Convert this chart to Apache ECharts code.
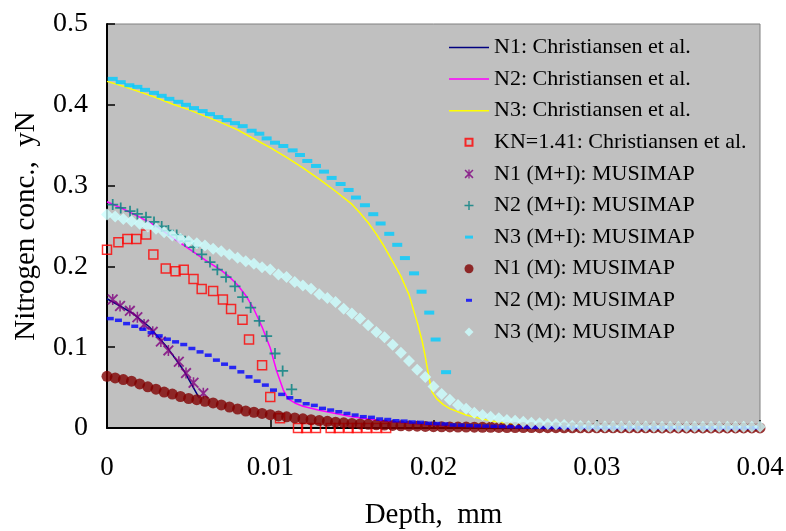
<!DOCTYPE html>
<html><head><meta charset="utf-8">
<script src="https://cdn.jsdelivr.net/npm/echarts@6/dist/echarts.min.js"></script>
<style>html,body{margin:0;padding:0;background:#fff}#c{width:786px;height:531px}</style>
</head><body><div id="c"></div>
<script>
const xTicks = [0, 0.01, 0.02, 0.03, 0.04];
const yTicks = [0, 0.1, 0.2, 0.3, 0.4, 0.5];

const seriesNames = [
  'N1: Christiansen et al.', 'N2: Christiansen et al.', 'N3: Christiansen et al.',
  'KN=1.41: Christiansen et al.', 'N1 (M+I): MUSIMAP', 'N2 (M+I): MUSIMAP', 'N3 (M+I): MUSIMAP',
  'N1 (M): MUSIMAP', 'N2 (M): MUSIMAP', 'N3 (M): MUSIMAP'
];

const n1Christiansen = [[0,0.160],[0.0008,0.151],[0.0016,0.1416],[0.0026,0.125],[0.0037,0.0995],[0.0047,0.0712],[0.0056,0.0387]];

const n2Christiansen = [[0,0.280],[0.001,0.271],[0.002,0.261],[0.003,0.250],[0.004,0.236],[0.005,0.222],[0.006,0.208],[0.007,0.195],[0.0075,0.187],[0.008,0.177],[0.0085,0.164],[0.009,0.147],[0.0095,0.125],[0.010,0.099],[0.0104,0.070],[0.0108,0.047],[0.0111,0.036],[0.0115,0.031],[0.012,0.027],[0.013,0.022],[0.014,0.018],[0.015,0.014],[0.016,0.011],[0.017,0.0085],[0.018,0.0065],[0.019,0.005],[0.020,0.0035],[0.022,0.002],[0.025,0.001],[0.030,0.0003],[0.040,0]];

const n3Christiansen = [[0,0.429],[0.001,0.423],[0.002,0.416],[0.003,0.409],[0.004,0.401],[0.005,0.394],[0.006,0.386],[0.007,0.378],[0.008,0.369],[0.009,0.358],[0.010,0.347],[0.011,0.335],[0.012,0.322],[0.013,0.308],[0.014,0.293],[0.015,0.277],[0.0155,0.266],[0.016,0.254],[0.0165,0.240],[0.017,0.224],[0.0175,0.206],[0.018,0.188],[0.0185,0.165],[0.019,0.131],[0.0193,0.108],[0.0195,0.088],[0.0197,0.065],[0.0199,0.045],[0.0202,0.036],[0.0206,0.029],[0.021,0.024],[0.022,0.016],[0.023,0.011],[0.024,0.007],[0.025,0.004],[0.027,0.002],[0.030,0.001],[0.035,0.0003],[0.040,0]];

const kn141 = [[0,0.2206],[0.0007,0.230],[0.00125,0.234],[0.0018,0.234],[0.0024,0.2395],[0.00284,0.2148],[0.0036,0.1975],[0.0042,0.194],[0.0047,0.196],[0.0053,0.1843],[0.0058,0.172],[0.0065,0.1695],[0.0071,0.159],[0.0076,0.1473],[0.0083,0.134],[0.0087,0.1095],[0.0095,0.0778],[0.0100,0.0383],[0.0106,0.012],[0.0117,0],[0.0122,0],[0.0128,0],[0.0137,0],[0.0142,0],[0.0148,0],[0.0153,0],[0.0159,0],[0.0165,0],[0.0171,0]];

const n1MI = [[0.00035,0.159],[0.0008,0.151],[0.0014,0.145],[0.00186,0.137],[0.00227,0.128],[0.0028,0.119],[0.0033,0.107],[0.00376,0.096],[0.0044,0.082],[0.00484,0.068],[0.0053,0.056],[0.0059,0.043]];

const n2MI = [[0.00035,0.2765],[0.00084,0.2724],[0.00141,0.2683],[0.00186,0.265],[0.00239,0.2609],[0.00288,0.2551],[0.00335,0.2494],[0.00376,0.2444],[0.00427,0.239],[0.00478,0.2312],[0.00529,0.2238],[0.0058,0.2148],[0.00631,0.2054],[0.00676,0.1959],[0.00729,0.1868],[0.00784,0.1753],[0.00831,0.1621],[0.0088,0.149],[0.00933,0.1325],[0.00978,0.1136],[0.01029,0.0922],[0.01076,0.0706],[0.01131,0.0478]];

const n3MI = [[0.00035,0.4321],[0.00084,0.428],[0.00137,0.4242],[0.00186,0.4222],[0.00233,0.4185],[0.00288,0.4148],[0.00335,0.4111],[0.00382,0.4074],[0.00437,0.4037],[0.00484,0.400],[0.00533,0.3959],[0.00586,0.3922],[0.00631,0.3885],[0.00682,0.3848],[0.00733,0.381],[0.00784,0.3773],[0.00831,0.3736],[0.00886,0.3679],[0.00933,0.3642],[0.00978,0.3584],[0.01029,0.3531],[0.0108,0.349],[0.01137,0.3436],[0.01182,0.3379],[0.01227,0.3305],[0.0128,0.3243],[0.01329,0.3173],[0.01376,0.3095],[0.01431,0.302],[0.0148,0.2946],[0.01525,0.2852],[0.0158,0.2757],[0.01631,0.2646],[0.01676,0.2531],[0.01729,0.2403],[0.01778,0.2267],[0.01825,0.2103],[0.01881,0.1914],[0.01927,0.1687],[0.01974,0.1428],[0.02013,0.1095],[0.02077,0.0691]];

const depthGrid = [0,0.0005,0.001,0.0015,0.002,0.0025,0.003,0.0035,0.004,0.0045,0.005,0.0055,0.006,0.0065,0.007,0.0075,0.008,0.0085,0.009,0.0095,0.010,0.0105,0.011,0.0115,0.012,0.0125,0.013,0.0135,0.014,0.0145,0.015,0.0155,0.016,0.0165,0.017,0.0175,0.018,0.0185,0.019,0.0195,0.020,0.0205,0.021,0.0215,0.022,0.0225,0.023,0.0235,0.024,0.0245,0.025,0.0255,0.026,0.0265,0.027,0.0275,0.028,0.0285,0.029,0.0295,0.030,0.0305,0.031,0.0315,0.032,0.0325,0.033,0.0335,0.034,0.0345,0.035,0.0355,0.036,0.0365,0.037,0.0375,0.038,0.0385,0.039,0.0395,0.040];

const n1M = [0.064,0.062,0.060,0.058,0.0545,0.051,0.048,0.0445,0.042,0.039,0.0365,0.035,0.033,0.031,0.0285,0.026,0.0235,0.021,0.0195,0.018,0.0165,0.015,0.0138,0.0125,0.0113,0.0102,0.0092,0.0082,0.0072,0.0064,0.0057,0.0051,0.0045,0.004,0.0036,0.0032,0.0028,0.0025,0.0022,0.0019,0.0017,0.0015,0.0013,0.0012,0.0011,0.001,0.0009,0.0008,0.0007,0.0006,0.0006,0.0005,0.0005,0.0004,0.0004,0.0004,0.0003,0.0003,0.0003,0.0003,0.0003,0.0002,0.0002,0.0002,0.0002,0.0002,0.0002,0.0002,0.0001,0.0001,0.0001,0.0001,0.0001,0.0001,0.0001,0.0001,0.0001,0.0001,0.0001,0.0001,0.0001];

const n3M = [0.2642,0.2617,0.2588,0.2559,0.2527,0.2494,0.2465,0.2424,0.2383,0.2342,0.2312,0.2288,0.2259,0.2218,0.2189,0.2148,0.2107,0.2065,0.2033,0.1991,0.1963,0.1901,0.1868,0.1806,0.1765,0.1724,0.1654,0.1609,0.156,0.1477,0.1416,0.1354,0.1272,0.1189,0.1124,0.1031,0.093,0.0829,0.0722,0.0631,0.0515,0.0422,0.035,0.0284,0.0237,0.0189,0.016,0.014,0.012,0.0099,0.009,0.0078,0.0066,0.0058,0.005,0.0045,0.0037,0.0029,0.0025,0.0022,0.002,0.002,0.0019,0.0019,0.0018,0.0018,0.0018,0.0017,0.0017,0.0017,0.0016,0.0016,0.0016,0.0016,0.0015,0.0015,0.0015,0.0015,0.0015,0.0015,0.0015];

const n2M = [[0.0002,0.1354],[0.0007,0.1333],[0.0012,0.1292],[0.0017,0.1259],[0.0022,0.1222],[0.0027,0.118],[0.0032,0.114],[0.0037,0.1099],[0.0042,0.1066],[0.0047,0.1033],[0.0052,0.0984],[0.0057,0.0942],[0.0062,0.0901],[0.0067,0.084],[0.0072,0.079],[0.0077,0.0749],[0.0082,0.0695],[0.0087,0.0633],[0.0092,0.058],[0.0097,0.0531],[0.0102,0.0469],[0.0107,0.0416],[0.0112,0.0374],[0.0117,0.0337],[0.0122,0.030],[0.0127,0.028],[0.0132,0.0243],[0.0137,0.0222],[0.0142,0.0201],[0.0147,0.018],[0.0152,0.016],[0.0157,0.014],[0.0162,0.0132],[0.0167,0.0111],[0.0172,0.0105],[0.0177,0.009],[0.0182,0.0085],[0.0187,0.0074],[0.0192,0.007],[0.0197,0.0058],[0.0202,0.0055],[0.0207,0.005],[0.0212,0.0037],[0.0217,0.0035],[0.0222,0.003],[0.0227,0.0027],[0.0232,0.0024],[0.0237,0.0021],[0.0242,0.0018],[0.0247,0.0016],[0.0252,0.0014],[0.0257,0.0011],[0.0262,0.0008],[0.0267,0.0008],[0.0272,0.0007],[0.0277,0.0007],[0.0282,0.0006],[0.0287,0.0006],[0.0292,0.0005],[0.0297,0.0005],[0.0302,0.0005],[0.0307,0.0004],[0.0312,0.0004],[0.0317,0.0004],[0.0322,0.0004],[0.0327,0.0003],[0.0332,0.0003],[0.0337,0.0003],[0.0342,0.0003],[0.0347,0.0003],[0.0352,0.0003],[0.0357,0.0002],[0.0362,0.0002],[0.0367,0.0002],[0.0372,0.0002],[0.0377,0.0002],[0.0382,0.0002],[0.0387,0.0002],[0.0392,0.0002],[0.0397,0.0002]];

const FONT = 'Liberation Serif';
const zip = (xs, ys) => xs.map((x, i) => [x, ys[i]]);

const asteriskPath = 'path://M0,1.2L1.2,0L10,8.8L8.8,10Z M8.8,0L10,1.2L1.2,10L0,8.8Z M4.3,0L5.7,0L5.7,10L4.3,10Z';
const plusPath = 'path://M4.2,0L5.8,0L5.8,10L4.2,10Z M0,4.2L10,4.2L10,5.8L0,5.8Z';
const dashPath = 'path://M0,0L10,0L10,4L0,4Z';

// legend icons (padded to a 9x9 box so they keep their own size)
const legendIcons = [
  'path://M0,0L40,0L40,1.5L0,1.5Z',
  'path://M0,0L40,0L40,1.5L0,1.5Z',
  'path://M0,0L40,0L40,1.5L0,1.5Z',
  'path://M0,0M9,9M1,1L8,1L8,8L1,8Z',
  null,
  null,
  'path://M0,0M9,9M0.5,3L8.5,3L8.5,6L0.5,6Z',
  'circle',
  'path://M0,0M9,9M1.5,3L7.5,3L7.5,6L1.5,6Z',
  'path://M4.5,0L9,4.5L4.5,9L0,4.5Z'
];

const lineS = (name, data, color) => ({
  name, type: 'line', data, symbol: 'none', showSymbol: false,
  lineStyle: { color, width: 1.5 }, itemStyle: { color }, z: 2
});
const scat = (name, data, symbol, size, style) => ({
  name, type: 'scatter', data, symbol, symbolSize: size, itemStyle: style, z: 3
});

const legendData = seriesNames.map((n, i) => legendIcons[i] ? { name: n, icon: legendIcons[i] } : { name: n });

const chart = echarts.init(document.getElementById('c'), null, { renderer: 'canvas' });
chart.setOption({
  animation: false,
  backgroundColor: '#ffffff',
  grid: { left: 107, right: 26, top: 24, bottom: 103, containLabel: false, outerBoundsMode: 'none',
          show: true, backgroundColor: '#c0c0c0', borderColor: '#808080', borderWidth: 1 },
  legend: {
    data: legendData, orient: 'vertical', left: 449, top: 36.5, padding: 0,
    itemWidth: 40, itemHeight: 9, itemGap: 9.6, symbolKeepAspect: true,
    textStyle: { fontFamily: FONT, fontSize: 22, color: '#000' }
  },
  xAxis: {
    type: 'value', min: xTicks[0], max: xTicks[xTicks.length - 1], interval: 0.01,
    name: 'Depth,  mm', nameLocation: 'middle', nameGap: 73,
    nameTextStyle: { fontFamily: FONT, fontSize: 29, color: '#000' },
    axisLine: { onZero: false, lineStyle: { color: '#000', width: 2 } },
    axisTick: { inside: true, length: 8, lineStyle: { color: '#000', width: 1.5 } },
    axisLabel: { fontFamily: FONT, fontSize: 27, color: '#000', margin: 26, formatter: v => String(+v.toFixed(3)) },
    splitLine: { show: false }
  },
  yAxis: {
    type: 'value', min: yTicks[0], max: yTicks[yTicks.length - 1], interval: 0.1,
    name: 'Nitrogen conc.,  yN', nameLocation: 'middle', nameGap: 66,
    nameTextStyle: { fontFamily: FONT, fontSize: 29, color: '#000' },
    axisLine: { onZero: false, lineStyle: { color: '#000', width: 2 } },
    axisTick: { inside: true, length: 8, lineStyle: { color: '#000', width: 1.5 } },
    axisLabel: { fontFamily: FONT, fontSize: 28, color: '#000', margin: 19, formatter: v => String(+v.toFixed(2)) },
    splitLine: { show: false }
  },
  series: [
    lineS(seriesNames[0], n1Christiansen, '#000080'),
    lineS(seriesNames[1], n2Christiansen, '#ff00ff'),
    lineS(seriesNames[2], n3Christiansen, '#ffff00'),
    scat(seriesNames[3], kn141, 'rect', 9, { color: 'rgba(0,0,0,0)', borderColor: '#ff0000', borderWidth: 1.5 }),
    scat(seriesNames[4], n1MI, asteriskPath, 11, { color: '#800080' }),
    scat(seriesNames[5], n2MI, plusPath, 11, { color: '#008080' }),
    scat(seriesNames[6], n3MI, dashPath, [10, 4], { color: '#00ccff' }),
    scat(seriesNames[7], zip(depthGrid, n1M), 'circle', 11, { color: '#800000' }),
    scat(seriesNames[8], n2M, dashPath, [7, 3.5], { color: '#0000ff' }),
    scat(seriesNames[9], zip(depthGrid, n3M), 'diamond', 12, { color: '#ccffff' })
  ]
});
</script></body></html>
